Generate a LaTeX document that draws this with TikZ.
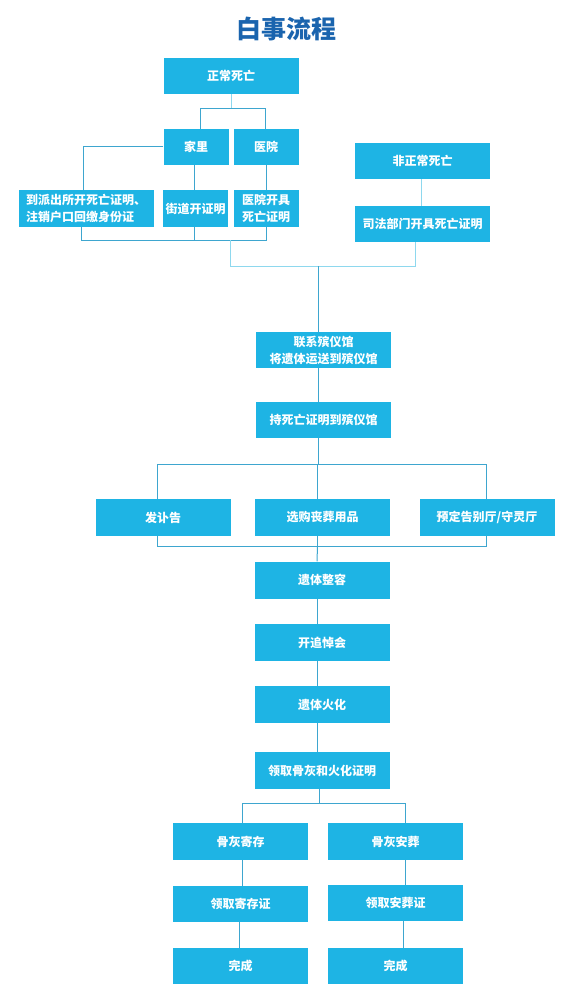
\documentclass[tikz,border=0pt]{standalone}
\usepackage{fontspec}
\newfontfamily\cjk{Noto Sans CJK SC}
\usetikzlibrary{positioning, calc}
\definecolor{BoxBlue}{HTML}{1EB4E4}
\definecolor{TitleBlue}{HTML}{1A64AE}
\definecolor{LinkBlue}{HTML}{3EA6CF}
\definecolor{LinkPale}{HTML}{8ED8EE}

\begin{document}
\begin{tikzpicture}[
    x=1pt, y=-1pt,
    box/.style={fill=BoxBlue, text=white, font=\cjk\bfseries\fontsize{12}{17}\selectfont,
                minimum width=135pt, minimum height=36pt, inner sep=0pt, align=center},
    narrow/.style={box, minimum width=65pt},
    link/.style={LinkBlue, line width=1pt},
    pale/.style={LinkPale, line width=1pt},
  ]
  \useasboundingbox (0,0) rectangle (572,1000);
  \node[font=\cjk\bfseries\fontsize{25}{29}\selectfont, text=TitleBlue] (title) at (286,29) {白事流程};

  % upper part: normal / abnormal death
  \node[box] (zc) at (231,76) {正常死亡};
  \node[narrow] (jl) at (196,147) {家里};
  \node[narrow] (yy) at (266,147) {医院};
  \node[box, minimum height=37pt, align=left] (pcs) at (86,208.5) {到派出所开死亡证明、\\注销户口回缴身份证};
  \node[narrow, minimum height=37pt] (jd) at (195.5,208.5) {街道开证明};
  \node[narrow, minimum height=37pt] (yykj) at (266,208.5) {医院开具\\死亡证明};
  \node[box] (fzc) at (422.5,161) {非正常死亡};
  \node[box] (sf) at (422.5,224) {司法部门开具死亡证明};

  % middle column
  \node[box] (lx) at (323.5,350) {联系殡仪馆\\将遗体运送到殡仪馆};
  \node[box] (cz) at (323.5,420) {持死亡证明到殡仪馆};
  \node[box, minimum height=37pt] (fg) at (163,517.5) {发讣告};
  \node[box, minimum height=37pt] (xg) at (322.5,517.5) {选购丧葬用品};
  \node[box, minimum height=37pt] (yd) at (487,517.5) {预定告别厅/守灵厅};
  \foreach \nm/\yy/\txt in {zr/580/遗体整容, zd/642.5/开追悼会, hh/704.5/遗体火化, lq/770.5/领取骨灰和火化证明}
    \node[box, minimum height=37pt] (\nm) at (322,\yy) {\txt};

  % ashes
  \node[box, minimum height=37pt] (jc) at (240.5,841.5) {骨灰寄存};
  \node[box, minimum height=37pt] (az) at (395.5,841.5) {骨灰安葬};
  \node[box] (jcz) at (240.5,904) {领取寄存证};
  \node[box] (azz) at (395.5,903) {领取安葬证};
  \node[box] (wc1) at (240.5,966) {完成};
  \node[box] (wc2) at (395.5,966) {完成};

  % connectors, top
  \draw[pale] (zc.south) -- ++(0,14) coordinate (s1);
  \draw[link] ([xshift=4]jl.north) |- (s1) -| ([xshift=-1]yy.north);
  \draw[link] (jl.west) -| ([xshift=-3]pcs.north);
  \draw[link] ([xshift=-2]jl.south) -- ([xshift=-1.5]jd.north);
  \draw[link] (yy.south) -- (yykj.north);
  \coordinate (b1) at (230,240);
  \draw[link] ([xshift=-5]pcs.south) |- (yykj.south |- b1) -- (yykj.south);
  \draw[link] ([xshift=-1.5]jd.south) -- ([xshift=-1.5]jd.south |- b1);
  \draw[pale] (b1) -- ++(0,26) coordinate (b2) -| ([xshift=-7.5]sf.south);
  \draw[pale] ([xshift=-1]fzc.south) -- ([xshift=-1]sf.north);
  \draw[link] ([xshift=-5]lx.north |- b2) -- ([xshift=-5]lx.north);

  % connectors, middle
  \draw[link] ([xshift=-5]lx.south) -- ([xshift=-5]cz.north);
  \draw[link] ([xshift=-5]cz.south) -- ++(0,26) coordinate (b3);
  \draw[link] ([xshift=-6]fg.north) |- (b3) -| ([xshift=-1]yd.north);
  \draw[link] ([xshift=-5]xg.north) -- ([xshift=-5]xg.north |- b3);
  \draw[link] ([xshift=-6]fg.south) -- ++(0,10) coordinate (b4) -| ([xshift=-1]yd.south);
  \draw[link] ([xshift=-5]xg.south) -- ([xshift=-5]xg.south |- b4);
  \draw[link] ([xshift=-5]xg.south |- b4) -- ([xshift=-5]zr.north);
  \foreach \a/\b in {zr/zd, zd/hh, hh/lq}
    \draw[link] ([xshift=-5]\a.south) -- ([xshift=-5]\b.north);

  % connectors, bottom
  \draw[link] ([xshift=-3]lq.south) -- ++(0,14) coordinate (b5);
  \draw[link] ([xshift=1.5]jc.north) |- (b5) -| ([xshift=9.5]az.north);
  \draw[link] ([xshift=1.5]jc.south) -- ([xshift=1.5]jcz.north);
  \draw[link] ([xshift=-1.5]jcz.south) -- ([xshift=-1.5]wc1.north);
  \draw[link] ([xshift=9.5]az.south) -- ([xshift=9.5]azz.north);
  \draw[link] ([xshift=7.5]azz.south) -- ([xshift=7.5]wc2.north);
\end{tikzpicture}
\end{document}
